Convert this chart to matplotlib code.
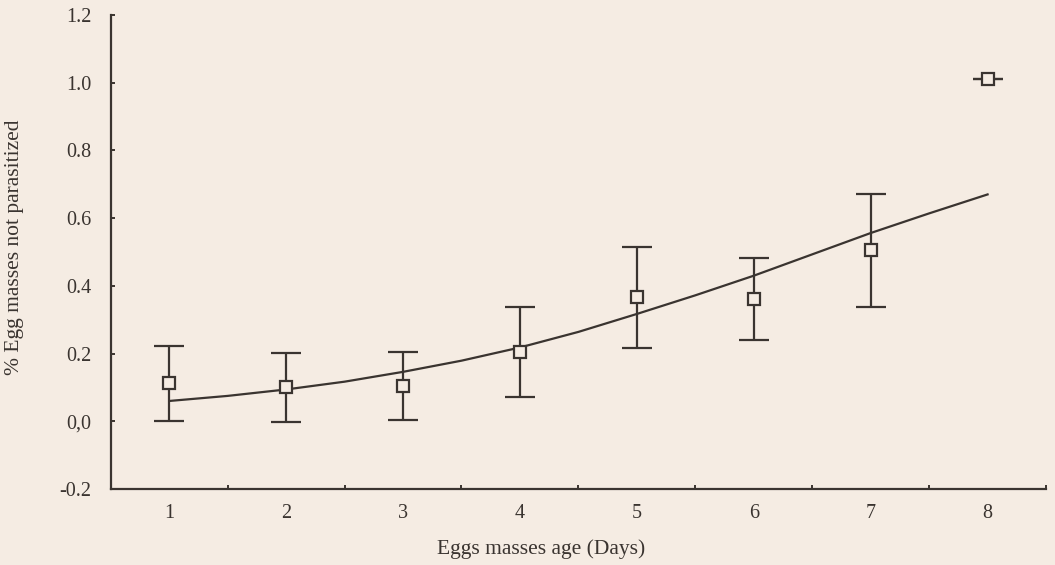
import matplotlib.pyplot as plt

# mean proportion of egg masses not parasitized, by age (days)
days = [1, 2, 3, 4, 5, 6, 7, 8]
mean_y = [0.112, 0.100, 0.104, 0.205, 0.366, 0.361, 0.505, 1.01]
err_y = [0.111, 0.101, 0.100, 0.134, 0.149, 0.120, 0.166, 0.0]

# fitted curve
fit_x = [1, 1.5, 2, 2.5, 3, 3.5, 4, 4.5, 5, 5.5, 6, 6.5, 7, 7.5, 8]
fit_y = [0.060, 0.075, 0.094, 0.117, 0.146, 0.179, 0.218, 0.264,
         0.317, 0.372, 0.430, 0.493, 0.556, 0.614, 0.670]

y_ticks = [-0.2, 0.0, 0.2, 0.4, 0.6, 0.8, 1.0, 1.2]
y_labels = ["-0.2", "0,0", "0.2", "0.4", "0.6", "0.8", "1.0", "1.2"]

bg = "#f5ece3"
ink = "#3a3430"

plt.rcParams['font.family'] = ['Liberation Serif', 'DejaVu Serif']

fig = plt.figure(figsize=(10.55, 5.65), dpi=100, facecolor=bg)
ax = fig.add_axes([0.105, 0.1345, 0.8865, 0.839])
ax.set_facecolor(bg)

ax.plot(fit_x, fit_y, color=ink, lw=1.6, zorder=2)
ax.errorbar(days, mean_y, yerr=err_y, fmt='s', color=ink, ecolor=ink,
            elinewidth=1.6, capsize=11, capthick=1.6, markersize=9,
            markerfacecolor=bg, markeredgecolor=ink, markeredgewidth=1.6,
            zorder=3)

ax.set_xlim(0.5, 8.5)
ax.set_ylim(-0.2, 1.2)

ax.set_xticks(days)
ax.set_xticklabels([str(d) for d in days])
ax.set_xticks([1.5, 2.5, 3.5, 4.5, 5.5, 6.5, 7.5, 8.5], minor=True)
ax.tick_params(axis='x', which='major', length=0, pad=11, labelsize=14.5, colors=ink)
ax.tick_params(axis='x', which='minor', direction='in', length=3, width=1.4, color=ink)

ax.set_yticks(y_ticks)
ax.set_yticklabels(y_labels)
ax.tick_params(axis='y', direction='in', length=3, width=1.4, pad=14, labelsize=14.5, colors=ink)

for side in ['top', 'right']:
    ax.spines[side].set_visible(False)
for side in ['left', 'bottom']:
    ax.spines[side].set_color(ink)
    ax.spines[side].set_linewidth(1.6)

ax.set_xlabel("Eggs masses age (Days)", fontsize=15.5, color=ink)
ax.set_ylabel("% Egg masses not parasitized", fontsize=15.5, color=ink)
ax.xaxis.set_label_coords(0.46, -0.105)
ax.yaxis.set_label_coords(-0.093, 0.51)

fig.savefig("out.png", facecolor=bg)
